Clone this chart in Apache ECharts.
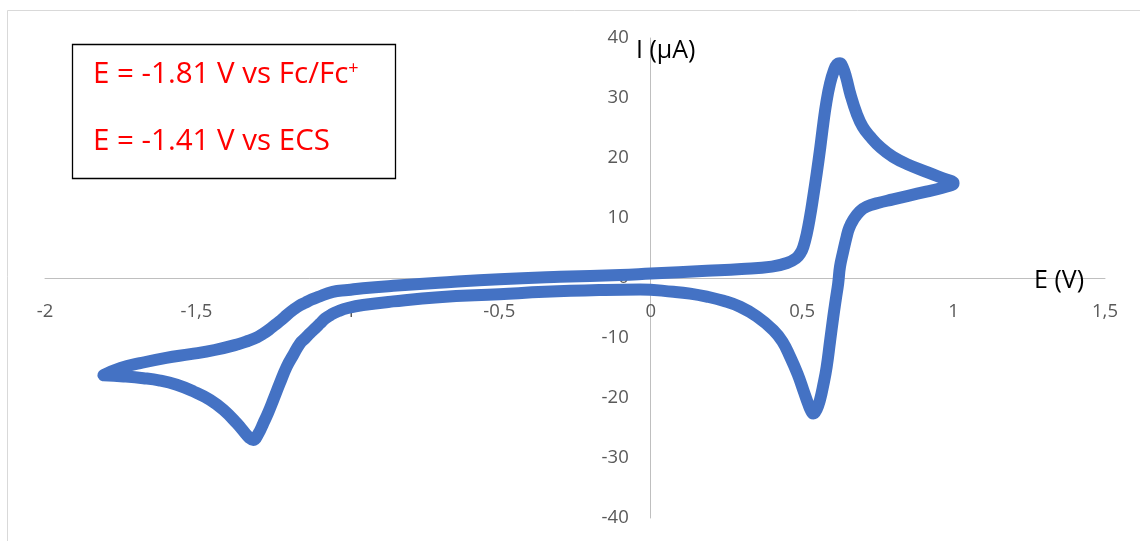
<!DOCTYPE html>
<html>
<head>
<meta charset="utf-8">
<script src="https://cdn.jsdelivr.net/npm/echarts@6/dist/echarts.min.js"></script>
<style>
html,body{margin:0;padding:0;background:#fff;}
#chart{width:1140px;height:541px;}
</style>
</head>
<body>
<div id="chart"></div>
<script>
// Forward scan (from -1.81 V vertex to +1.0 V vertex)
const forwardE = [-1.807,-1.75,-1.686,-1.60,-1.52,-1.44,-1.36,-1.33,-1.30,-1.28,-1.26,-1.24,-1.22,-1.20,-1.18,-1.16,-1.14,-1.12,-1.10,-1.05,-1.0,-0.95,-0.85,-0.70,-0.50,-0.30,-0.10,0,0.185,0.30,0.40,0.45,0.48,0.495,0.504,0.515,0.526,0.537,0.548,0.56,0.57,0.58,0.592,0.605,0.615,0.625,0.635,0.645,0.66,0.68,0.70,0.724,0.76,0.80,0.85,0.91,0.96,1.0];
const forwardI = [-16.2,-15.0,-14.2,-13.3,-12.7,-12.0,-11.0,-10.5,-9.9,-9.3,-8.6,-7.8,-7.0,-6.1,-5.3,-4.6,-4.1,-3.6,-3.2,-2.3,-2.0,-1.7,-1.3,-0.8,-0.2,0.2,0.5,0.75,1.2,1.5,1.9,2.5,3.3,4.2,5.2,7.3,10.2,13.7,17.4,21.8,25.8,29.3,32.4,34.6,35.6,35.8,35.0,33.5,30.5,27.4,25.2,23.6,21.7,20.2,18.9,17.7,16.7,15.8];
// Reverse scan (from +1.0 V back to -1.81 V)
const reverseE = [0.96,0.91,0.85,0.80,0.75,0.713,0.69,0.669,0.655,0.647,0.635,0.625,0.619,0.611,0.603,0.592,0.581,0.57,0.559,0.548,0.537,0.528,0.52,0.504,0.485,0.46,0.435,0.405,0.35,0.295,0.24,0.185,0.13,0.075,-0.035,-0.167,-0.35,-0.50,-0.70,-0.85,-0.95,-1.0,-1.03,-1.055,-1.076,-1.092,-1.108,-1.125,-1.14,-1.158,-1.18,-1.202,-1.225,-1.246,-1.262,-1.279,-1.295,-1.312,-1.326,-1.34,-1.367,-1.41,-1.455,-1.51,-1.565,-1.62,-1.675,-1.74,-1.807];
const reverseI = [15.0,14.4,13.7,13.1,12.5,11.9,11.1,9.7,8.3,6.9,4.3,1.9,-0.9,-3.6,-6.4,-10.6,-14.8,-17.8,-20.3,-21.9,-22.6,-22.0,-21.0,-18.7,-16.0,-13.1,-10.6,-8.7,-6.4,-4.8,-3.8,-3.1,-2.6,-2.3,-1.9,-2.0,-2.3,-2.7,-3.2,-3.9,-4.5,-5.0,-5.5,-6.1,-6.8,-7.6,-8.4,-9.2,-10.0,-10.9,-12.8,-14.8,-17.6,-20.3,-22.3,-24.2,-25.9,-27.0,-26.6,-25.8,-24.2,-22.0,-20.3,-18.9,-17.8,-17.1,-16.7,-16.4,-16.2];

const xTicks = [-2,-1.5,-1,-0.5,0,0.5,1,1.5];
const yTicks = [-40,-30,-20,-10,0,10,20,30,40];
const annotationLines = ['E = -1.81 V vs Fc/Fc', 'E = -1.41 V vs ECS'];
const xTitle = 'E (V)';
const yTitle = 'I (µA)';

const cvData = [];
forwardE.forEach((e,i)=>cvData.push([e, forwardI[i]]));
reverseE.forEach((e,i)=>cvData.push([e, reverseI[i]]));

const W = 1140, H = 541;
const grid = {left:45, right:35, top:38, bottom:23};
const plotW = W - grid.left - grid.right, plotH = H - grid.top - grid.bottom;
const xMin = xTicks[0], xMax = xTicks[xTicks.length-1];
const yMin = yTicks[0], yMax = yTicks[yTicks.length-1];
// shift axes so they cross at zero (line and labels together)
const yAxisOffset = -plotW * (0 - xMin) / (xMax - xMin);
const xAxisOffset = -plotH * (0 - yMin) / (yMax - yMin);

const chart = echarts.init(document.getElementById('chart'), null, {renderer:'canvas'});
const labelFont = '"Open Sans", "Noto Sans", sans-serif';
chart.setOption({
  animation:false,
  backgroundColor:'#ffffff',
  grid:{left:grid.left, right:grid.right, top:grid.top, bottom:grid.bottom, containLabel:false, outerBoundsMode:'none'},
  xAxis:{
    type:'value', min:xMin, max:xMax, interval:0.5, position:'bottom', offset:xAxisOffset,
    axisLine:{onZero:false, lineStyle:{color:'#BFBFBF', width:1}},
    axisTick:{show:false}, splitLine:{show:false},
    axisLabel:{margin:24, color:'#595959', fontSize:18.5, fontFamily:labelFont,
      formatter:v=>String(v).replace('.', ',')}
  },
  yAxis:{
    type:'value', min:yMin, max:yMax, interval:10, position:'left', offset:yAxisOffset,
    axisLine:{onZero:false, lineStyle:{color:'#BFBFBF', width:1}},
    axisTick:{show:false}, splitLine:{show:false},
    axisLabel:{margin:22, color:'#595959', fontSize:18.5, fontFamily:labelFont}
  },
  series:[{
    type:'line', data:cvData, showSymbol:false, smooth:0.45,
    lineStyle:{color:'#4472C4', width:12, cap:'round', join:'round'},
    itemStyle:{color:'#4472C4'}
  }],
  graphic:[
    {type:'rect', shape:{x:7.5, y:10.5, width:1200, height:700}, style:{fill:null, stroke:'#D9D9D9', lineWidth:1}, silent:true, z:-1},
    {type:'rect', shape:{x:72.5, y:44.5, width:323, height:134}, style:{fill:'#ffffff', stroke:'#000000', lineWidth:1.3}, z:10},
    {type:'text', left:93, top:60, z:11, style:{
      text:'{m|'+annotationLines[0]+'}{s|+}',
      rich:{m:{fontSize:29.5, fontFamily:labelFont, fill:'#FF0000'}, s:{fontSize:18, fontFamily:labelFont, fill:'#FF0000', verticalAlign:'top'}}
    }},
    {type:'text', left:93, top:127, z:11, style:{text:annotationLines[1], fontSize:29.5, fontFamily:labelFont, fill:'#FF0000'}},
    {type:'text', left:636, top:38, z:11, style:{text:yTitle, fontSize:25, fontFamily:labelFont, fill:'#000000'}},
    {type:'text', left:1034, top:268, z:11, style:{text:xTitle, fontSize:25, fontFamily:labelFont, fill:'#000000'}}
  ]
});
</script>
</body>
</html>
